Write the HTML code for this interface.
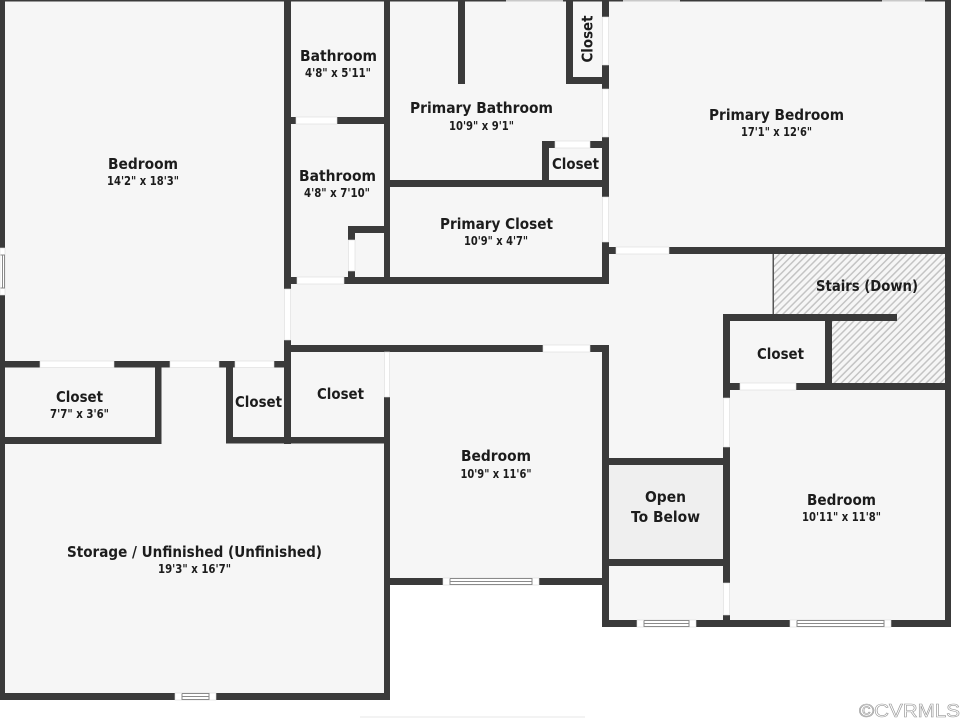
<!DOCTYPE html>
<html>
<head>
<meta charset="utf-8">
<style>
html,body{margin:0;padding:0;background:#fff;width:960px;height:720px;overflow:hidden}
svg{display:block}
.w rect{fill:#3a3a3a}
.d rect{fill:#fff;stroke:#dcdcdc;stroke-width:.6}
.t{font-family:"DejaVu Sans",sans-serif;font-weight:700;fill:#1c1c1c;text-anchor:middle}
.n{font-size:15px}
.s{font-size:12px}
</style>
</head>
<body>
<svg width="960" height="720" viewBox="0 0 960 720" xmlns="http://www.w3.org/2000/svg">
<defs>
<pattern id="h" width="5" height="5" patternUnits="userSpaceOnUse" patternTransform="rotate(45)">
<rect width="5" height="5" fill="#f6f6f6"/>
<rect width="1.5" height="5" fill="#c4c4c4"/>
</pattern>
</defs>
<g style="filter:blur(.35px)">
<!-- floors -->
<path d="M0 0H948V627H602V585H390V700H0Z" fill="#f6f6f6"/>
<rect x="609" y="465" width="114" height="94" fill="#efefef"/>
<path d="M773 254H945V384H832V318H773Z" fill="url(#h)"/>
<rect x="772.500" y="254" width="1.500" height="62" fill="#555"/>

<!-- walls -->
<g class="w">
<rect x="0" y="0" width="506" height="1.500"/>
<rect x="563" y="0" width="60" height="1.500"/>
<rect x="680" y="0" width="202" height="1.500"/>
<rect x="925" y="0" width="26" height="1.500"/>
<rect x="0" y="0" width="5" height="248"/>
<rect x="0" y="295" width="5" height="405"/>
<rect x="945" y="0" width="6" height="627"/>

<rect x="284" y="0" width="7" height="289"/>
<rect x="284" y="340" width="7" height="104"/>
<rect x="384" y="0" width="6" height="284"/>
<rect x="384" y="397" width="6" height="303"/>

<rect x="291" y="117" width="5" height="7"/>
<rect x="337" y="117" width="47" height="7"/>
<rect x="291" y="277" width="6" height="7"/>
<rect x="344" y="277" width="265" height="7"/>
<rect x="348" y="226" width="36" height="7"/>
<rect x="348" y="226" width="7" height="14"/>
<rect x="348" y="271" width="7" height="7"/>

<rect x="458" y="0" width="7" height="84"/>
<rect x="566" y="0" width="7" height="84"/>
<rect x="566" y="77" width="39" height="7"/>
<rect x="602" y="0" width="7" height="17"/>
<rect x="602" y="65" width="7" height="24"/>
<rect x="602" y="137" width="7" height="60"/>
<rect x="602" y="242" width="7" height="42"/>
<rect x="542" y="141" width="7" height="46"/>
<rect x="542" y="141" width="13" height="7"/>
<rect x="590" y="141" width="12" height="7"/>
<rect x="384" y="180" width="218" height="7"/>

<rect x="609" y="247" width="7" height="7"/>
<rect x="669" y="247" width="276" height="7"/>

<rect x="723" y="314" width="174" height="7"/>
<rect x="723" y="314" width="7" height="84"/>
<rect x="825" y="321" width="7" height="65"/>
<rect x="730" y="383" width="10" height="7"/>
<rect x="796" y="383" width="149" height="7"/>
<rect x="723" y="447" width="7" height="136"/>
<rect x="723" y="615" width="7" height="12"/>

<rect x="5" y="361" width="35" height="6.500"/>
<rect x="114" y="361" width="56" height="6.500"/>
<rect x="219" y="361" width="16" height="6.500"/>
<rect x="274" y="361" width="17" height="6.500"/>
<rect x="155" y="361" width="6.500" height="83"/>
<rect x="0" y="437" width="161.500" height="7"/>
<rect x="226" y="361" width="7" height="82"/>
<rect x="226" y="437" width="164" height="6.500"/>

<rect x="291" y="345" width="252" height="7"/>
<rect x="590" y="345" width="19" height="7"/>
<rect x="602" y="345" width="7" height="282"/>
<rect x="609" y="458" width="114" height="7"/>
<rect x="609" y="559" width="114" height="7"/>
<rect x="390" y="578" width="53" height="7"/>
<rect x="539" y="578" width="63" height="7"/>

<rect x="602" y="620" width="35" height="7"/>
<rect x="696" y="620" width="94" height="7"/>
<rect x="891" y="620" width="60" height="7"/>

<rect x="0" y="693" width="175" height="7"/>
<rect x="216" y="693" width="174" height="7"/>
</g>

<!-- doors -->
<g class="d">
<rect x="296" y="117" width="41" height="7"/>
<rect x="297" y="277" width="47" height="7"/>
<rect x="348.500" y="240" width="6.500" height="31"/>
<rect x="602.500" y="17" width="6" height="48"/>
<rect x="602.500" y="89" width="6" height="48"/>
<rect x="602.500" y="197" width="6" height="45"/>
<rect x="555" y="141" width="35" height="7"/>
<rect x="616" y="247" width="53" height="7"/>
<rect x="740" y="383" width="56" height="7"/>
<rect x="723.500" y="398" width="6" height="49"/>
<rect x="723.500" y="583" width="6" height="32"/>
<rect x="40" y="361" width="74" height="6.500"/>
<rect x="170" y="361" width="49" height="6.500"/>
<rect x="235" y="361" width="39" height="6.500"/>
<rect x="284.500" y="289" width="6" height="51"/>
<rect x="384.500" y="352" width="5" height="45"/>
<rect x="543" y="345" width="47" height="7"/>
<!-- windows -->
<rect x="443" y="578" width="96" height="7"/>
<rect x="637" y="620" width="59" height="7"/>
<rect x="790" y="620" width="101" height="7"/>
<rect x="175" y="693" width="41" height="7"/>
<rect x="0" y="248" width="5" height="47"/>
</g>
<g fill="none" stroke="#8a8a8a" stroke-width="1">
<path d="M450 578.500V584.500H532V578.500H450M450 581.500H532"/>
<path d="M644 620.500V626.500H689V620.500H644M644 623.500H689"/>
<path d="M797 620.500V626.500H884V620.500H797M797 623.500H884"/>
<path d="M182 693.500V699.500H209V693.500H182M182 696.500H209"/>
<path d="M.5 255H4.500V288H.5M2.500 255V288"/>
</g>
<g fill="#c9c9c9">
<rect x="506" y="0" width="57" height="1.500"/>
<rect x="623" y="0" width="57" height="1.500"/>
<rect x="882" y="0" width="43" height="1.500"/>
</g>

<!-- labels -->
<text class="t n" x="143" y="169" textLength="70" lengthAdjust="spacingAndGlyphs">Bedroom</text>
<text class="t s" x="143" y="185" textLength="72" lengthAdjust="spacingAndGlyphs">14'2" x 18'3"</text>
<text class="t n" x="338.500" y="61" textLength="77" lengthAdjust="spacingAndGlyphs">Bathroom</text>
<text class="t s" x="338" y="77" textLength="66" lengthAdjust="spacingAndGlyphs">4'8" x 5'11"</text>
<text class="t n" x="337.500" y="181" textLength="77" lengthAdjust="spacingAndGlyphs">Bathroom</text>
<text class="t s" x="337" y="197" textLength="66" lengthAdjust="spacingAndGlyphs">4'8" x 7'10"</text>
<text class="t n" x="481.500" y="113" textLength="143" lengthAdjust="spacingAndGlyphs">Primary Bathroom</text>
<text class="t s" x="481.500" y="130" textLength="65" lengthAdjust="spacingAndGlyphs">10'9" x 9'1"</text>
<text class="t n" transform="translate(592.500 39) rotate(-90)" textLength="47" lengthAdjust="spacingAndGlyphs">Closet</text>
<text class="t n" x="575.500" y="169" textLength="47" lengthAdjust="spacingAndGlyphs">Closet</text>
<text class="t n" x="496.500" y="229" textLength="113" lengthAdjust="spacingAndGlyphs">Primary Closet</text>
<text class="t s" x="496" y="245" textLength="64" lengthAdjust="spacingAndGlyphs">10'9" x 4'7"</text>
<text class="t n" x="776.500" y="120" textLength="135" lengthAdjust="spacingAndGlyphs">Primary Bedroom</text>
<text class="t s" x="776.500" y="136" textLength="71" lengthAdjust="spacingAndGlyphs">17'1" x 12'6"</text>
<text class="t n" x="867" y="291" textLength="102" lengthAdjust="spacingAndGlyphs">Stairs (Down)</text>
<text class="t n" x="780.500" y="359" textLength="47" lengthAdjust="spacingAndGlyphs">Closet</text>
<text class="t n" x="79.500" y="402" textLength="47" lengthAdjust="spacingAndGlyphs">Closet</text>
<text class="t s" x="79.500" y="418" textLength="59" lengthAdjust="spacingAndGlyphs">7'7" x 3'6"</text>
<text class="t n" x="258.500" y="407" textLength="47" lengthAdjust="spacingAndGlyphs">Closet</text>
<text class="t n" x="340.500" y="399" textLength="47" lengthAdjust="spacingAndGlyphs">Closet</text>
<text class="t n" x="496" y="461" textLength="70" lengthAdjust="spacingAndGlyphs">Bedroom</text>
<text class="t s" x="496" y="478" textLength="71" lengthAdjust="spacingAndGlyphs">10'9" x 11'6"</text>
<text class="t n" x="665.500" y="502" textLength="41" lengthAdjust="spacingAndGlyphs">Open</text>
<text class="t n" x="665.500" y="522" textLength="69" lengthAdjust="spacingAndGlyphs">To Below</text>
<text class="t n" x="841.500" y="505" textLength="69" lengthAdjust="spacingAndGlyphs">Bedroom</text>
<text class="t s" x="841.500" y="521" textLength="79" lengthAdjust="spacingAndGlyphs">10'11" x 11'8"</text>
<text class="t n" x="194.500" y="557" textLength="255" lengthAdjust="spacingAndGlyphs">Storage / Unfinished (Unfinished)</text>
<text class="t s" x="194.500" y="573" textLength="73" lengthAdjust="spacingAndGlyphs">19'3" x 16'7"</text>
</g>
<text x="859" y="717" font-family="Liberation Sans, sans-serif" font-size="18" fill="#fff" stroke="#999" stroke-width=".6" textLength="101" lengthAdjust="spacingAndGlyphs">©CVRMLS</text>
<rect x="360" y="716" width="225" height="2" fill="#f3f3f3"/>
</svg>
</body>
</html>
